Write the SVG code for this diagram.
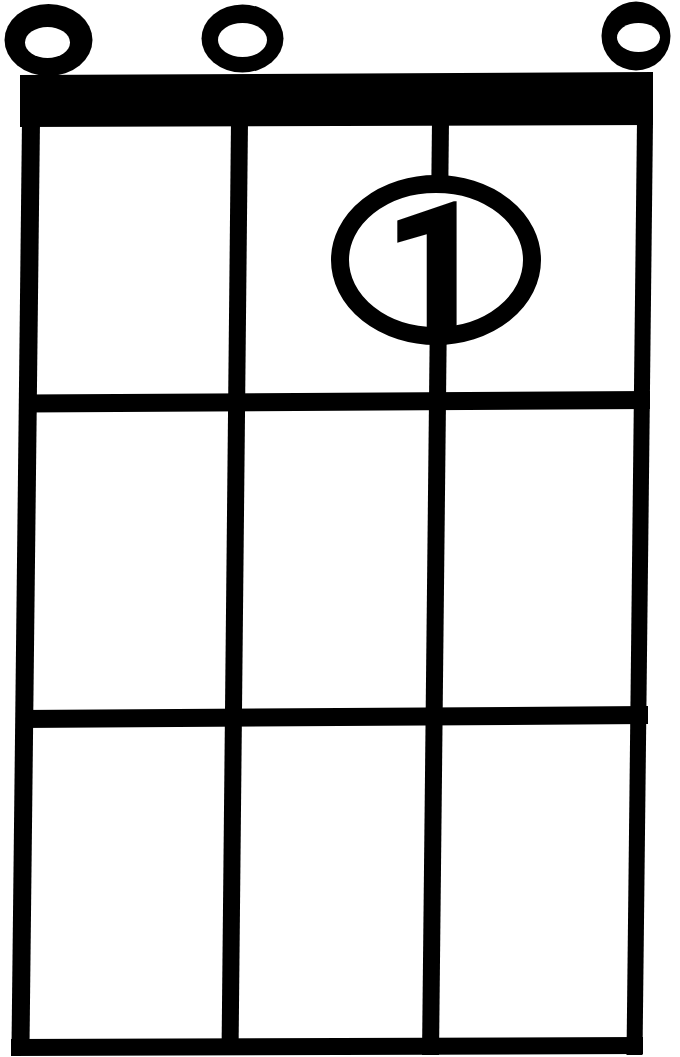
<svg xmlns="http://www.w3.org/2000/svg" width="680" height="1057" viewBox="0 0 680 1057">
<style>
.ink{fill:#000;stroke:none}
.hole{fill:#fff;stroke:none}
.finger{fill:#fff;stroke:#000;stroke-width:18}
.num{font-family:Roboto,Inter,"Open Sans","Liberation Sans",Arial,sans-serif;font-weight:900;font-size:178px;fill:#000}
</style>
<rect width="680" height="1057" fill="#fff"/>
<g id="peg1">
<ellipse class="ink" cx="48.5" cy="40" rx="44" ry="36"/>
<ellipse class="hole" cx="47.5" cy="42.5" rx="22.5" ry="15.5"/>
</g>
<g id="peg2">
<ellipse class="ink" cx="242.5" cy="38.5" rx="41" ry="34"/>
<ellipse class="hole" cx="242.5" cy="40" rx="24.5" ry="17"/>
</g>
<g id="peg4">
<ellipse class="ink" cx="636" cy="36" rx="34.5" ry="34.5"/>
<ellipse class="hole" cx="638.5" cy="37.5" rx="21.5" ry="14.5"/>
</g>
<g id="grid">
<polygon id="nut" class="ink" points="20,75 653,72 653,125 20,127"/>
<polygon id="string1" class="ink" points="22,120 40,120 29.4,1055 11.4,1055"/>
<polygon id="string2" class="ink" points="231,120 248,120 238.5,1055 221.5,1055"/>
<polygon id="string3" class="ink" points="432,120 449,120 439,1055 422,1055"/>
<polygon id="string4" class="ink" points="637,120 653,120 642.5,1055 626.5,1055"/>
<polygon id="fret1" class="ink" points="25,394.5 650,391 650,409 25,412.5"/>
<polygon id="fret2" class="ink" points="20,710 648,706 648,724 20,728"/>
<polygon id="fret3" class="ink" points="11,1039 643,1037 643,1054 11,1056"/>
</g>
<g id="finger1">
<ellipse class="finger" cx="436" cy="260" rx="96" ry="76"/>
<text class="num" text-anchor="middle" transform="translate(435,328) scale(1.02,1)">1</text>
</g>
</svg>
